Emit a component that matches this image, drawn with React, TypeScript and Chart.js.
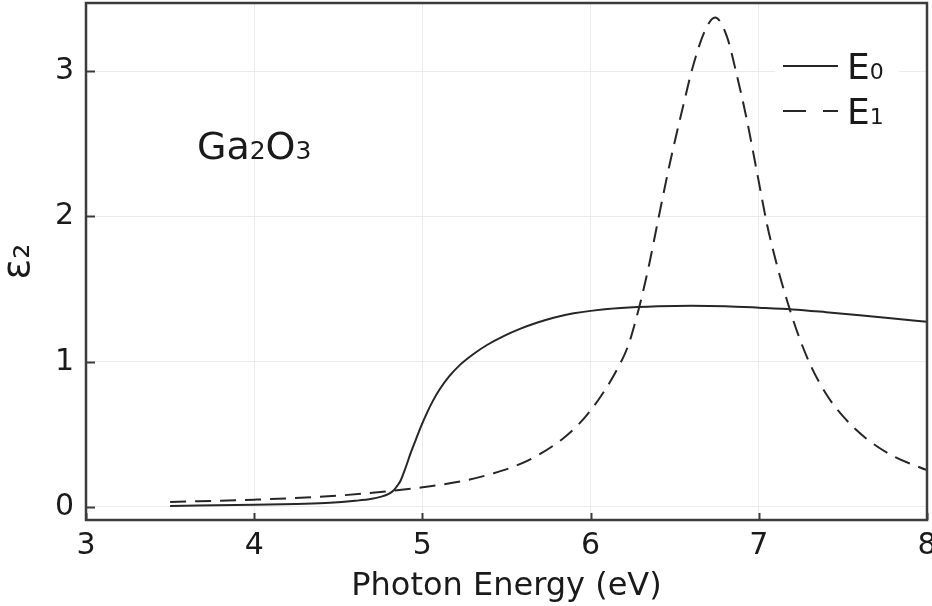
import React, { useEffect, useRef } from "react";
import { Chart, registerables } from "chart.js";

Chart.register(...registerables);

// ---- data ----
const xTicks = [3, 4, 5, 6, 7, 8];
const yTicks = [0, 1, 2, 3];

const energyE0 = [3.5, 4.0, 4.25, 4.45, 4.6, 4.7, 4.75, 4.8, 4.83, 4.85, 4.87, 4.9, 4.93, 4.96, 4.99, 5.03, 5.06, 5.1, 5.16, 5.225, 5.3, 5.384, 5.48, 5.58, 5.68, 5.78, 5.9, 6.0, 6.18, 6.4, 6.6, 6.8, 7.0, 7.2, 7.4, 7.6, 7.8, 8.0];
const eps2E0 = [0.007, 0.015, 0.021, 0.028, 0.042, 0.056, 0.069, 0.09, 0.115, 0.145, 0.18, 0.27, 0.37, 0.46, 0.55, 0.655, 0.725, 0.805, 0.9, 0.98, 1.05, 1.115, 1.175, 1.226, 1.268, 1.303, 1.333, 1.35, 1.369, 1.381, 1.385, 1.382, 1.372, 1.36, 1.341, 1.32, 1.298, 1.275];

const energyE1 = [3.5, 4.0, 4.5, 4.83, 5.0, 5.245, 5.424, 5.56, 5.7, 5.84, 5.93, 6.0, 6.06, 6.14, 6.22, 6.26, 6.305, 6.35, 6.39, 6.47, 6.55, 6.61, 6.68, 6.74, 6.81, 6.87, 6.93, 6.99, 7.05, 7.1, 7.15, 7.23, 7.31, 7.41, 7.5, 7.64, 7.8, 8.0];
const eps2E1 = [0.034, 0.05, 0.078, 0.112, 0.135, 0.18, 0.232, 0.285, 0.365, 0.475, 0.57, 0.665, 0.76, 0.91, 1.1, 1.25, 1.45, 1.68, 1.91, 2.36, 2.76, 3.04, 3.28, 3.37, 3.24, 2.97, 2.66, 2.3, 1.94, 1.7, 1.49, 1.2, 0.97, 0.76, 0.625, 0.47, 0.35, 0.253];

const seriesLabels = ["E₀", "E₁"];
const xTitle = "Photon Energy (eV)";
const yTitle = "ε₂";
const annotationText = "Ga₂O₃";
const annotationX = 4;
const annotationY = 2.5;

// ---- styling ----
const FONT = '"DejaVu Sans", sans-serif';
const TEXT = "#1a1a1a";
const LINE = "#262626";
const FRAME = "#3c3c3c";
const SUB = "₀₁₂₃₄₅₆₇₈₉";

type Run = { t: string; sub: boolean };
function toRuns(text: string): Run[] {
  const out: Run[] = [];
  for (const ch of text) {
    const i = SUB.indexOf(ch);
    const sub = i >= 0;
    const c = sub ? String(i) : ch;
    const last = out[out.length - 1];
    if (last && last.sub === sub) last.t += c;
    else out.push({ t: c, sub });
  }
  return out;
}

function drawRich(ctx: CanvasRenderingContext2D, text: string, x: number, y: number, size: number, subRatio: number, align: "left" | "center") {
  const subSize = Math.round(size * subRatio);
  const runs = toRuns(text);
  const widths = runs.map((r) => {
    ctx.font = `${r.sub ? subSize : size}px ${FONT}`;
    return ctx.measureText(r.t).width;
  });
  const total = widths.reduce((a, b) => a + b, 0);
  let cx = align === "center" ? x - total / 2 : x;
  ctx.textAlign = "left";
  ctx.textBaseline = "alphabetic";
  runs.forEach((r, i) => {
    ctx.font = `${r.sub ? subSize : size}px ${FONT}`;
    ctx.fillText(r.t, cx, y);
    cx += widths[i];
  });
}

const decorPlugin = {
  id: "decor",
  afterDraw(chart: any) {
    const { ctx, chartArea } = chart;
    const { left, right, top, bottom } = chartArea;
    const xs = chart.scales.x;
    const ys = chart.scales.y;
    ctx.save();
    // inward tick marks
    ctx.strokeStyle = FRAME;
    ctx.lineWidth = 2;
    ctx.setLineDash([]);
    xTicks.forEach((v) => {
      const px = Math.round(xs.getPixelForValue(v)) + 0.5;
      ctx.beginPath();
      ctx.moveTo(px, bottom);
      ctx.lineTo(px, bottom - 7);
      ctx.stroke();
    });
    yTicks.forEach((v) => {
      const py = Math.round(ys.getPixelForValue(v)) + 0.5;
      ctx.beginPath();
      ctx.moveTo(left, py);
      ctx.lineTo(left + 9, py);
      ctx.stroke();
    });
    // frame
    ctx.lineWidth = 2.5;
    ctx.strokeRect(left, top, right - left, bottom - top);

    // annotation
    ctx.fillStyle = TEXT;
    const ax = xs.getPixelForValue(annotationX);
    const ay = ys.getPixelForValue(annotationY);
    drawRich(ctx, annotationText, ax, ay + 15, 38, 0.66, "center");

    // legend
    ctx.fillStyle = "#ffffff";
    ctx.fillRect(right - 152, top + 38, 124, 96);
    chart.data.datasets.forEach((ds: any, i: number) => {
      const y = top + 63 + i * 45;
      ctx.strokeStyle = ds.borderColor;
      ctx.lineWidth = ds.borderWidth;
      ctx.setLineDash(ds.borderDash && ds.borderDash.length ? [23, 17] : []);
      ctx.beginPath();
      ctx.moveTo(right - 144, y);
      ctx.lineTo(right - 89, y);
      ctx.stroke();
      ctx.setLineDash([]);
      ctx.fillStyle = TEXT;
      drawRich(ctx, ds.label, right - 80, y + 13, 36, 0.6, "left");
    });
    ctx.restore();
  },
};

export default function App() {
  const ref = useRef<HTMLCanvasElement | null>(null);
  useEffect(() => {
    if (!ref.current) return;
    const chart = new Chart(ref.current, {
      type: "line",
      data: {
        datasets: [
          {
            label: seriesLabels[0],
            data: energyE0.map((x, i) => ({ x, y: eps2E0[i] })),
            borderColor: LINE,
            borderWidth: 2,
            pointRadius: 0,
            fill: false,
            cubicInterpolationMode: "monotone",
          },
          {
            label: seriesLabels[1],
            data: energyE1.map((x, i) => ({ x, y: eps2E1[i] })),
            borderColor: LINE,
            borderWidth: 2,
            borderDash: [16, 9],
            pointRadius: 0,
            fill: false,
            cubicInterpolationMode: "monotone",
          },
        ],
      },
      options: {
        animation: false,
        responsive: false,
        devicePixelRatio: 1,
        layout: { padding: { top: 3, right: 5, left: 0, bottom: 0 } },
        plugins: {
          legend: { display: false },
          tooltip: { enabled: false },
        },
        scales: {
          x: {
            type: "linear",
            min: 3,
            max: 8,
            afterBuildTicks: (s: any) => {
              s.ticks = xTicks.map((v) => ({ value: v }));
            },
            afterFit: (s: any) => {
              s.height = 86;
              s.paddingLeft = 0;
              s.paddingRight = 0;
            },
            grid: { color: "#ebebeb", lineWidth: 1, drawTicks: false },
            border: { display: false },
            ticks: {
              padding: 8,
              color: TEXT,
              font: { family: FONT, size: 30 },
              maxRotation: 0,
              autoSkip: false,
            },
            title: {
              display: true,
              text: xTitle,
              color: TEXT,
              font: { family: FONT, size: 32 },
              padding: { top: 0, bottom: 0 },
            },
          },
          y: {
            type: "linear",
            min: -0.09,
            max: 3.47,
            afterBuildTicks: (s: any) => {
              s.ticks = yTicks.map((v) => ({ value: v }));
            },
            afterFit: (s: any) => {
              s.width = 86;
              s.paddingTop = 0;
              s.paddingBottom = 0;
            },
            grid: { color: "#ebebeb", lineWidth: 1, drawTicks: false },
            border: { display: false },
            ticks: {
              padding: 12,
              color: TEXT,
              font: { family: FONT, size: 30 },
            },
            title: {
              display: true,
              text: yTitle,
              color: TEXT,
              font: { family: FONT, size: 38, lineHeight: 1 },
              padding: { top: 0, bottom: 0 },
            },
          },
        },
      },
      plugins: [decorPlugin],
    } as any);
    return () => chart.destroy();
  }, []);
  return (
    <div style={{ position: "fixed", left: 0, top: 0, width: 932, height: 606, background: "#fff" }}>
      <canvas ref={ref} width={932} height={606} />
    </div>
  );
}
